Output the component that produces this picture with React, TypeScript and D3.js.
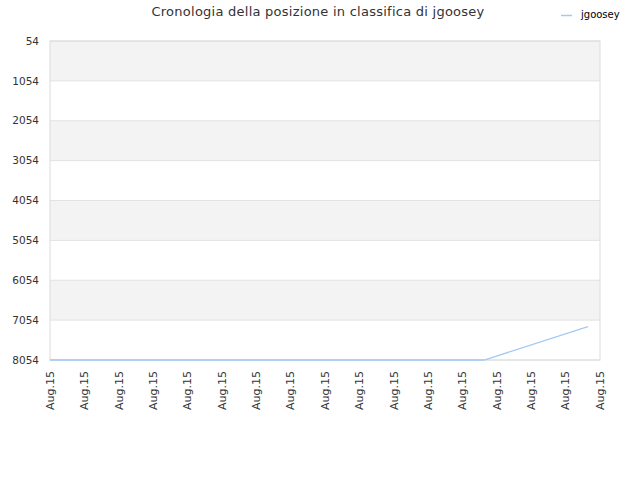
import React from "react";
import * as d3 from "d3";

const yTicks = [54, 1054, 2054, 3054, 4054, 5054, 6054, 7054, 8054];
const xTickLabels = Array.from({ length: 17 }, () => "Aug.15");
const seriesName = "jgoosey";
const seriesX = [0, 12.63, 15.65];
const seriesY = [8054, 8054, 7219];

export default function App() {
  const W = 640, H = 480;
  const m = { left: 50, right: 600, top: 41, bottom: 360 };
  const x = d3.scaleLinear().domain([0, 16]).range([m.left, m.right]);
  const y = d3.scaleLinear().domain([54, 8054]).range([m.top, m.bottom]);
  const line = d3.line<number>().x((_, i) => x(seriesX[i])).y((d) => y(d));
  const font = "'DejaVu Sans', sans-serif";
  return (
    <svg width={W} height={H} style={{ position: "absolute", left: 0, top: 0 }} fontFamily={font}>
      <rect width={W} height={H} fill="#fff" />
      {yTicks.slice(0, -1).map((t, i) =>
        i % 2 === 0 ? (
          <rect key={"b" + i} x={m.left} y={y(t)} width={m.right - m.left} height={y(yTicks[i + 1]) - y(t)} fill="#f3f3f3" />
        ) : null
      )}
      {yTicks.map((t) => (
        <line key={"g" + t} x1={m.left} x2={m.right} y1={y(t)} y2={y(t)} stroke="#e2e2e2" strokeWidth={1} />
      ))}
      <rect x={m.left} y={m.top} width={m.right - m.left} height={m.bottom - m.top} fill="none" stroke="#dcdcdc" strokeWidth={1} />
      {yTicks.map((t) => (
        <text key={"yl" + t} x={39} y={y(t)} dy="0.35em" textAnchor="end" fontSize={10.5} fill="#333">
          {t}
        </text>
      ))}
      {xTickLabels.map((l, i) => (
        <text key={"xl" + i} transform={`translate(${x(i)},${371}) rotate(-90)`} dy="0.35em" textAnchor="end" fontSize={11} fill="#333">
          {l}
        </text>
      ))}
      <path d={line(seriesY) || ""} fill="none" stroke="#a3c8f2" strokeWidth={1.3} />
      <text x={318} y={16} textAnchor="middle" fontSize={13} fill="#333" letterSpacing={0.25}>
        Cronologia della posizione in classifica di jgoosey
      </text>
      <line x1={561} x2={572} y1={15.5} y2={15.5} stroke="#a3c8f2" strokeWidth={1.5} />
      <text x={581} y={18} fontSize={10} fill="#000">
        {seriesName}
      </text>
    </svg>
  );
}
